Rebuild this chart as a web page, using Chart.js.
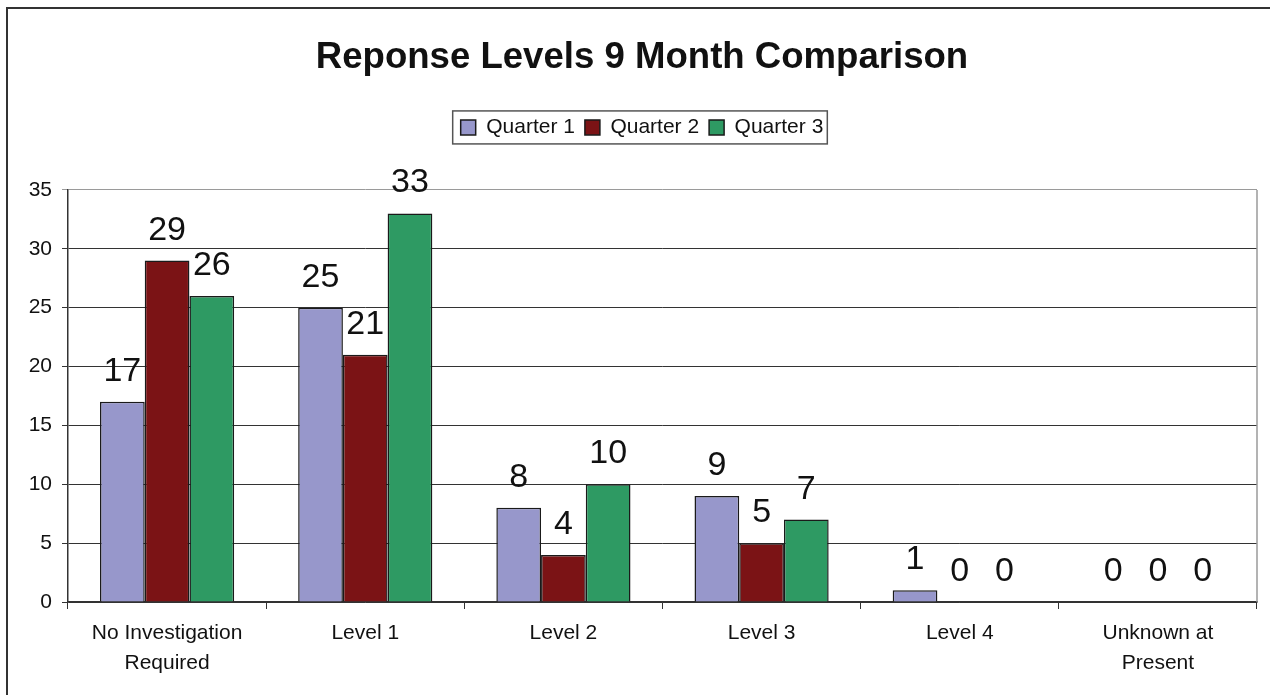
<!DOCTYPE html>
<html>
<head>
<meta charset="utf-8">
<script src="https://cdn.jsdelivr.net/npm/chart.js@4.4.1/dist/chart.umd.min.js"></script>
<style>
html,body{margin:0;padding:0;background:#fff;}
#wrap{position:relative;width:1270px;height:695px;}
</style>
</head>
<body>
<div id="wrap"><canvas id="c" width="1270" height="695"></canvas></div>
<script>
const categories = [["No Investigation","Required"],"Level 1","Level 2","Level 3","Level 4",["Unknown at","Present"]];
const seriesNames = ["Quarter 1","Quarter 2","Quarter 3"];
const quarter1 = [17, 25, 8, 9, 1, 0];
const quarter2 = [29, 21, 4, 5, 0, 0];
const quarter3 = [26, 33, 10, 7, 0, 0];
const yTicks = [0, 5, 10, 15, 20, 25, 30, 35];
const chartTitle = "Reponse Levels 9 Month Comparison";

const FONT = "'Liberation Sans', Arial, Helvetica, sans-serif";
const colors = ["#9797CB", "#7B1315", "#2E9A63"];

const frame = {
  id: 'frame',
  beforeInit(chart) {
    const lg = chart.legend;
    if (lg) {
      const fit = lg.fit;
      lg.fit = function () { fit.call(lg); this.height += 42; };
    }
  },
  beforeDraw(chart) {
    const ctx = chart.ctx;
    ctx.save();
    ctx.strokeStyle = '#333';
    ctx.lineWidth = 2;
    ctx.beginPath();
    ctx.moveTo(7, 695);
    ctx.lineTo(7, 8);
    ctx.lineTo(1270, 8);
    ctx.stroke();
    ctx.restore();
  },
  afterDraw(chart) {
    const ctx = chart.ctx;
    const a = chart.chartArea;
    ctx.save();
    ctx.strokeStyle = '#9a9a9a';
    ctx.lineWidth = 1.5;
    ctx.beginPath();
    ctx.moveTo(a.right, a.bottom);
    ctx.lineTo(a.right, a.top);
    ctx.stroke();
    const lg = chart.legend;
    if (lg && lg.legendHitBoxes && lg.legendHitBoxes.length) {
      const hb = lg.legendHitBoxes;
      const l = Math.min(...hb.map(b => b.left)) - 8;
      const r = Math.max(...hb.map(b => b.left + b.width)) + 4;
      const t = Math.min(...hb.map(b => b.top)) - 6;
      const bt = Math.max(...hb.map(b => b.top + b.height)) + 6;
      ctx.strokeStyle = '#555';
      ctx.lineWidth = 1.5;
      ctx.strokeRect(l, t, r - l, bt - t);
    }
    ctx.restore();
  },
  afterDatasetsDraw(chart) {
    const ctx = chart.ctx;
    ctx.save();
    ctx.font = "34px " + FONT;
    ctx.fillStyle = '#111';
    ctx.textAlign = 'center';
    ctx.textBaseline = 'alphabetic';
    chart.data.datasets.forEach((ds, i) => {
      const meta = chart.getDatasetMeta(i);
      meta.data.forEach((el, j) => {
        ctx.fillText(String(ds.data[j]), el.x, el.y - 21);
      });
    });
    ctx.restore();
  }
};

new Chart(document.getElementById('c'), {
  type: 'bar',
  data: {
    labels: categories,
    datasets: [
      { label: seriesNames[0], data: quarter1, backgroundColor: colors[0], borderColor: '#1a1a1a', borderWidth: 1.5 },
      { label: seriesNames[1], data: quarter2, backgroundColor: colors[1], borderColor: '#1a1a1a', borderWidth: 1.5 },
      { label: seriesNames[2], data: quarter3, backgroundColor: colors[2], borderColor: '#1a1a1a', borderWidth: 1.5 }
    ]
  },
  options: {
    responsive: false,
    animation: false,
    devicePixelRatio: 1,
    layout: { padding: { top: 0, left: 27, right: 13, bottom: 0 } },
    datasets: { bar: { categoryPercentage: 0.677, barPercentage: 1.0 } },
    plugins: {
      title: {
        display: true,
        text: chartTitle,
        color: '#111',
        font: { family: FONT, size: 36.6, weight: 'bold', lineHeight: 1.2 },
        padding: { top: 36, bottom: 27 }
      },
      legend: {
        display: true,
        position: 'top',
        labels: {
          color: '#111',
          font: { family: FONT, size: 21 },
          boxWidth: 15,
          boxHeight: 15,
          padding: 10
        }
      },
      tooltip: { enabled: false }
    },
    scales: {
      x: {
        afterFit(s) { s.height = 93; },
        grid: { display: true, offset: true, drawOnChartArea: false, drawTicks: true, tickLength: 7, color: '#333', lineWidth: 1 },
        border: { display: true, color: '#333', width: 1.5 },
        ticks: { color: '#111', font: { family: FONT, size: 21, lineHeight: 1.45 }, padding: 9, maxRotation: 0, autoSkip: false }
      },
      y: {
        min: 0,
        max: 35,
        afterFit(s) { s.width = 41; },
        afterBuildTicks(s) { s.ticks = yTicks.map(v => ({ value: v })); },
        grid: {
          color: (c) => (c.tick && c.tick.value === 35) ? '#9a9a9a' : '#333',
          lineWidth: 1,
          tickLength: 6,
          drawTicks: true
        },
        border: { display: true, color: '#333', width: 1.5 },
        ticks: { color: '#111', font: { family: FONT, size: 21 }, padding: 10, stepSize: 5 }
      }
    }
  },
  plugins: [frame]
});
</script>
</body>
</html>
